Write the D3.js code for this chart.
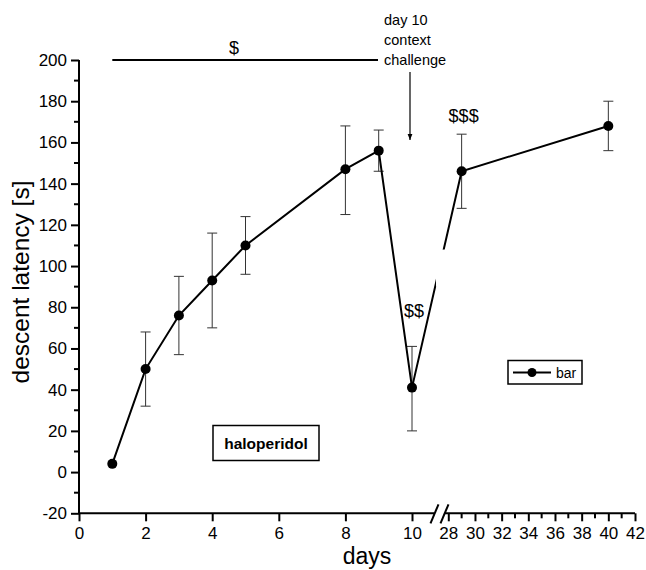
<!DOCTYPE html>
<html>
<head>
<meta charset="utf-8">
<script src="https://cdn.jsdelivr.net/npm/d3@7"></script>
<style>
  body { margin: 0; background: #fff; }
  svg { display: block; font-family: "Liberation Sans", Arial, sans-serif; }
</style>
</head>
<body>
<div id="chart"></div>
<script>
// data
const days  = [1, 2, 3, 4, 5, 8, 9, 10, 29, 40];
const means = [4, 50, 76, 93, 110, 147, 156, 41, 146, 168];
const lower = [4, 32, 57, 70, 96, 125, 146, 20, 128, 156];
const upper = [4, 68, 95, 116, 124, 168, 166, 61, 164, 180];
const xTicksLeft  = [0, 2, 4, 6, 8, 10];
const xTicksRight = [28, 30, 32, 34, 36, 38, 40, 42];
const yTicks = [-20, 0, 20, 40, 60, 80, 100, 120, 140, 160, 180, 200];

const width = 646, height = 570;
const svg = d3.select("#chart").append("svg")
  .attr("width", width).attr("height", height);

const xLeft  = d3.scaleLinear().domain([0, 10]).range([79, 412]);
const xRight = d3.scaleLinear().domain([28, 42]).range([448.3, 635]);
const x = d => d <= 10 ? xLeft(d) : xRight(d);
const y = d3.scaleLinear().domain([-20, 200]).range([513.3, 60]);
const axisY = y(-20);
const fmt = d => String(d);

// y axis
const gy = svg.append("g").attr("transform", `translate(79,0)`)
  .call(d3.axisLeft(y).tickValues(yTicks).tickFormat(fmt).tickSize(8).tickPadding(4));
gy.select(".domain").attr("stroke-width", 2).attr("d", `M0,${axisY}V${y(200)}`);
gy.selectAll(".tick line").attr("stroke-width", 2);
gy.selectAll(".tick text").attr("font-size", 17).attr("fill", "#000")
  .attr("font-family", "Liberation Sans, Arial, sans-serif");
gy.selectAll("line.minor")
  .data(d3.range(-10, 200, 20))
  .join("line").attr("class", "minor")
  .attr("x1", -5).attr("x2", 0)
  .attr("y1", d => y(d)).attr("y2", d => y(d))
  .attr("stroke", "#000").attr("stroke-width", 2);

// x axis, left part
const gx1 = svg.append("g").attr("transform", `translate(0,${axisY})`)
  .call(d3.axisBottom(xLeft).tickValues(xTicksLeft).tickFormat(fmt).tickSize(8).tickPadding(6));
gx1.select(".domain").attr("stroke-width", 2).attr("d", `M79,0H434`);

// x axis, right part
const gx2 = svg.append("g").attr("transform", `translate(0,${axisY})`)
  .call(d3.axisBottom(xRight).tickValues(xTicksRight).tickFormat(fmt).tickSize(8).tickPadding(6));
gx2.select(".domain").attr("stroke-width", 2).attr("d", `M445,0H635`);
gx2.selectAll("line.minor")
  .data(d3.range(29, 42, 2))
  .join("line").attr("class", "minor")
  .attr("x1", d => xRight(d)).attr("x2", d => xRight(d))
  .attr("y1", 0).attr("y2", 5)
  .attr("stroke", "#000").attr("stroke-width", 2);

[gx1, gx2].forEach(g => {
  g.selectAll(".tick line").attr("stroke-width", 2);
  g.selectAll(".tick text").attr("font-size", 17).attr("fill", "#000")
    .attr("font-family", "Liberation Sans, Arial, sans-serif");
});

// break marks
svg.append("g").selectAll("line")
  .data([0, 10])
  .join("line")
  .attr("x1", d => 430.5 + d).attr("y1", axisY + 10)
  .attr("x2", d => 438.5 + d).attr("y2", axisY - 9)
  .attr("stroke", "#000").attr("stroke-width", 2);

// error bars
const err = svg.append("g").attr("stroke", "#333").attr("stroke-width", 1);
days.forEach((d, i) => {
  if (upper[i] === lower[i]) return;
  const cx = x(d);
  err.append("line").attr("x1", cx).attr("x2", cx)
    .attr("y1", y(lower[i])).attr("y2", y(upper[i]));
  [lower[i], upper[i]].forEach(v => {
    err.append("line").attr("x1", cx - 5).attr("x2", cx + 5)
      .attr("y1", y(v)).attr("y2", y(v));
  });
});

// data line
const line = d3.line().x((d, i) => x(days[i])).y(d => y(d));
svg.append("path").datum(means)
  .attr("d", line)
  .attr("fill", "none").attr("stroke", "#000").attr("stroke-width", 2);

// gap in the line at the axis break
svg.append("rect")
  .attr("x", 436).attr("y", y(108)).attr("width", 9).attr("height", y(90) - y(108))
  .attr("fill", "#fff");

svg.append("g").selectAll("circle")
  .data(days)
  .join("circle")
  .attr("cx", d => x(d)).attr("cy", (d, i) => y(means[i]))
  .attr("r", 5).attr("fill", "#000");

// significance bar
svg.append("line")
  .attr("x1", x(1)).attr("x2", 378).attr("y1", y(200)).attr("y2", y(200))
  .attr("stroke", "#000").attr("stroke-width", 2);
svg.append("text").attr("x", 234).attr("y", 54)
  .attr("text-anchor", "middle").attr("font-size", 18).text("$");
svg.append("text").attr("x", x(29) + 2).attr("y", 122)
  .attr("text-anchor", "middle").attr("font-size", 18).text("$$$");
svg.append("text").attr("x", 414).attr("y", 317)
  .attr("text-anchor", "middle").attr("font-size", 18).text("$$");

// annotation
const ann = svg.append("text").attr("x", 384).attr("font-size", 14.5);
["day 10", "context", "challenge"].forEach((t, i) => {
  ann.append("tspan").attr("x", 384).attr("y", 25 + i * 20).text(t);
});
svg.append("defs").append("marker")
  .attr("id", "arrow").attr("viewBox", "0 0 10 10")
  .attr("refX", 10).attr("refY", 5)
  .attr("markerWidth", 5).attr("markerHeight", 8)
  .attr("orient", "auto")
  .append("path").attr("d", "M0,1L10,5L0,9Z").attr("fill", "#000");
svg.append("line")
  .attr("x1", xLeft(10) - 2).attr("x2", xLeft(10) - 2)
  .attr("y1", 72).attr("y2", 140)
  .attr("stroke", "#000").attr("stroke-width", 1.2)
  .attr("marker-end", "url(#arrow)");

// haloperidol box
svg.append("rect")
  .attr("x", 213).attr("y", 425.5).attr("width", 106).attr("height", 35)
  .attr("fill", "#fff").attr("stroke", "#000").attr("stroke-width", 1.5);
svg.append("text").attr("x", 266).attr("y", 448.5)
  .attr("text-anchor", "middle").attr("font-size", 15.5).attr("font-weight", "bold")
  .text("haloperidol");

// legend
const lg = svg.append("g");
lg.append("rect").attr("x", 508).attr("y", 360.5).attr("width", 74).attr("height", 23.5)
  .attr("fill", "#fff").attr("stroke", "#000").attr("stroke-width", 1.5);
lg.append("line").attr("x1", 513).attr("x2", 551).attr("y1", 372.5).attr("y2", 372.5)
  .attr("stroke", "#000").attr("stroke-width", 2);
lg.append("circle").attr("cx", 532).attr("cy", 372.5).attr("r", 4.5);
lg.append("text").attr("x", 556).attr("y", 378).attr("font-size", 14).text("bar");

// axis titles
svg.append("text")
  .attr("transform", `translate(29,282) rotate(-90)`)
  .attr("text-anchor", "middle").attr("font-size", 24.5)
  .text("descent latency [s]");
svg.append("text").attr("x", 367).attr("y", 564)
  .attr("text-anchor", "middle").attr("font-size", 23).text("days");
</script>
</body>
</html>
